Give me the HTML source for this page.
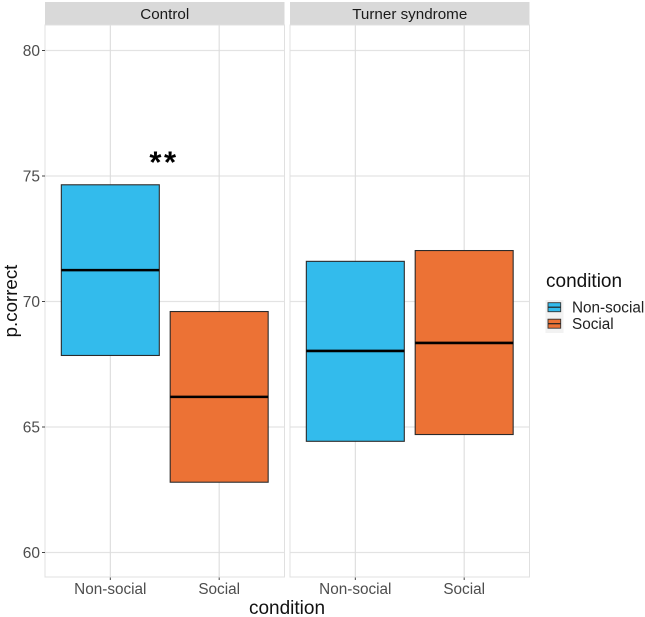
<!DOCTYPE html>
<html>
<head>
<meta charset="utf-8">
<style>
html,body{margin:0;padding:0;background:#fff;width:645px;height:617px;overflow:hidden}
svg{display:block;font-family:"Liberation Sans",sans-serif;filter:blur(0.3px)}
</style>
</head>
<body>
<svg id="chart" width="645" height="617" viewBox="0 0 645 617" xmlns="http://www.w3.org/2000/svg"></svg>
<script>
var panels = ["Control", "Turner syndrome"];
var categories = ["Non-social", "Social"];
var yTicks = [60, 65, 70, 75, 80];
var lowValues = [[67.85, 62.8], [64.43, 64.7]];
var midValues = [[71.25, 66.2], [68.03, 68.35]];
var highValues = [[74.65, 69.6], [71.6, 72.03]];
var fills = ["#33bbec", "#ec7235"];
var annotationLabel = "**";
var annotationValue = 75.55;

var NS = "http://www.w3.org/2000/svg";
var svg = document.getElementById("chart");
var panelLeft = [45, 290];
var panelWidth = 239.5;
var top0 = 25, bottom0 = 577;

function yPos(v) { return 552.5 - (v - 60) * 25.1; }
function xPos(p, i) { return panelLeft[p] + panelWidth * (0.6 + i) / 2.2; }
var barWidth = panelWidth * 0.9 / 2.2;

function add(tag, attrs, text) {
  var el = document.createElementNS(NS, tag);
  for (var k in attrs) el.setAttribute(k, attrs[k]);
  if (text !== undefined) el.textContent = text;
  svg.appendChild(el);
  return el;
}

panels.forEach(function (name, p) {
  var L = panelLeft[p], R = L + panelWidth;

  var strip = add("rect", { x: L, y: 2, width: panelWidth, height: 23, fill: "#d9d9d9" });
  
  

  var stripText = add("text", { x: L + panelWidth / 2, y: 19, "text-anchor": "middle", "font-size": 15.2, fill: "#1a1a1a" }, name);
  
  

  yTicks.forEach(function (t) {
    var g = add("line", { x1: L, x2: R, y1: yPos(t), y2: yPos(t), stroke: "#e3e3e3", "stroke-width": 1.3 });
    
    
  });

  categories.forEach(function (c, i) {
    var g = add("line", { x1: xPos(p, i), x2: xPos(p, i), y1: top0, y2: bottom0, stroke: "#dcdcdc", "stroke-width": 1.1 });
    
    

    var tick = add("line", { x1: xPos(p, i), x2: xPos(p, i), y1: bottom0, y2: bottom0 + 3, stroke: "#444", "stroke-width": 1 });
    
    

    var lab = add("text", { x: xPos(p, i), y: 594, "text-anchor": "middle", "font-size": 15.3, fill: "#4d4d4d" }, c);
    
    
  });

  categories.forEach(function (c, i) {
    var box = add("rect", {
      x: xPos(p, i) - barWidth / 2,
      y: yPos(highValues[p][i]),
      width: barWidth,
      height: yPos(lowValues[p][i]) - yPos(highValues[p][i]),
      fill: fills[i],
      stroke: "#2b2b2b",
      "stroke-width": 1.1
    });
    
    

    var mid = add("line", {
      x1: xPos(p, i) - barWidth / 2,
      x2: xPos(p, i) + barWidth / 2,
      y1: yPos(midValues[p][i]),
      y2: yPos(midValues[p][i]),
      stroke: "#000",
      "stroke-width": 2.6
    });
    
    
  });

  var border = add("rect", { x: L, y: top0, width: panelWidth, height: bottom0 - top0, fill: "none", stroke: "#e0e0e0", "stroke-width": 1 });
  
  
});

yTicks.forEach(function (t) {
  var tick = add("line", { x1: 42, x2: 45, y1: yPos(t), y2: yPos(t), stroke: "#444", "stroke-width": 1 });
  
  

  var lab = add("text", { x: 40, y: yPos(t) + 5.5, "text-anchor": "end", "font-size": 15.5, fill: "#4d4d4d" }, String(t));
  
  
});

var ann = add("text", { x: 164, y: yPos(annotationValue) + 10.5, "text-anchor": "middle", "font-size": 31, "font-weight": "bold", "letter-spacing": 2.5, fill: "#000" }, annotationLabel);



var xTitle = add("text", { x: 287, y: 614, "text-anchor": "middle", "font-size": 19, fill: "#111" }, "condition");



var yTitle = add("text", { x: 0, y: 0, "text-anchor": "middle", "font-size": 18.7, fill: "#111", transform: "translate(17,301) rotate(-90)" }, "p.correct");



var legTitle = add("text", { x: 546, y: 287, "font-size": 19, fill: "#111" }, "condition");



categories.forEach(function (c, i) {
  var ky = 300 + i * 16.5;
  var bg = add("rect", { x: 545.5, y: ky, width: 18, height: 16.5, fill: "#f2f2f2" });
  
  

  var sw = add("rect", { x: 548, y: ky + 2.7, width: 12.7, height: 9, fill: fills[i], stroke: "#333", "stroke-width": 0.9 });
  
  

  var ml = add("line", { x1: 548, x2: 560.7, y1: ky + 7.2, y2: ky + 7.2, stroke: "#222", "stroke-width": 1.2 });
  
  

  var t = add("text", { x: 572, y: ky + 12.7, "font-size": 15.3, fill: "#222" }, c);
  
  
});
</script>
</body>
</html>
